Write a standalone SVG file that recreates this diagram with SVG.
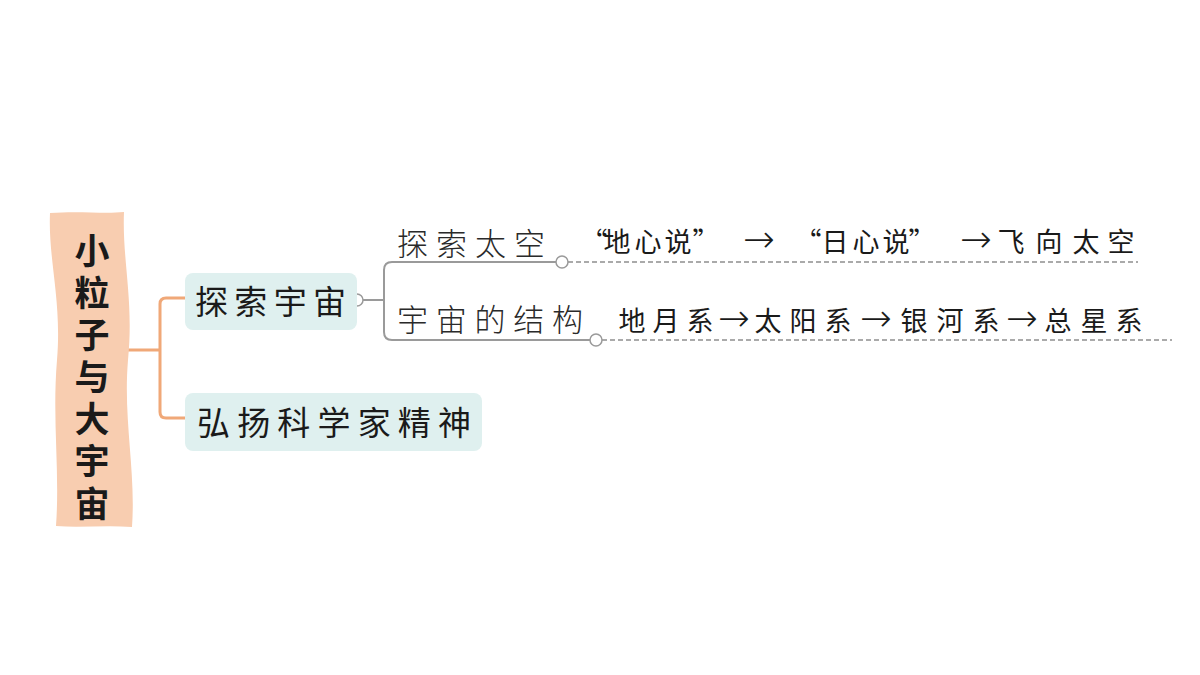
<svg xmlns="http://www.w3.org/2000/svg" width="1200" height="675" viewBox="0 0 1200 675">
<style>
.root{font-family:"Noto Sans CJK SC","Noto Sans",sans-serif;font-weight:700;font-size:35px;fill:#1a1a1a}
.node{font-family:"Noto Sans CJK SC","Noto Sans",sans-serif;font-size:33px;fill:#1a1a1a}
.sub{font-family:"Noto Sans CJK SC","Noto Sans",sans-serif;font-weight:300;font-size:31px;fill:#2a2a2a}
.note{font-family:"Noto Sans CJK SC","Noto Sans",sans-serif;font-weight:400;font-size:27px;fill:#1a1a1a}
.arr{font-family:"DejaVu Sans","Noto Sans CJK SC",sans-serif;font-size:38px;font-weight:300}
.box{fill:#dff0ef}
.orange{fill:none;stroke:#f0a878;stroke-width:3}
.gray{fill:none;stroke:#9a9a9a;stroke-width:2}
.dash{fill:none;stroke:#aaaaaa;stroke-width:2;stroke-dasharray:5 3}
.dot{fill:#fff;stroke:#9a9a9a;stroke-width:1.5}
</style>
<rect width="1200" height="675" fill="#ffffff"/>
<g id="connectors">
<path class="orange" d="M124 350 H160 M185 298 H166 Q160 298 160 304 V412 Q160 418 166 418 H185"/>
<path class="gray" d="M363 300 H384 M556 262 H392 Q384 262 384 270 V332 Q384 340 392 340 H590"/>
<path class="dash" d="M568 262 H1138"/>
<path class="dash" d="M602 340 H1172"/>
<circle class="dot" cx="357" cy="300" r="6"/>
<circle class="dot" cx="562" cy="262" r="6"/>
<circle class="dot" cx="596" cy="340" r="6"/>
</g>
<g id="root">
<path d="M50 213 C80 211 105 214 124 212 C122 260 134 300 128 360 C123 420 136 470 132 527 C105 525 80 528 56 526 C60 470 52 420 57 360 C62 300 48 260 50 213 Z" fill="#f8cdb0"/>
<g class="root" text-anchor="middle">
<text x="92" y="264">小</text>
<text x="92" y="306">粒</text>
<text x="92" y="348">子</text>
<text x="92" y="390">与</text>
<text x="92" y="432">大</text>
<text x="92" y="474">宇</text>
<text x="92" y="517">宙</text>
</g>
</g>
<g id="n1">
<rect class="box" x="185" y="273" width="172" height="57" rx="8"/>
<text class="node" x="195" y="314" textLength="151" lengthAdjust="spacing">探索宇宙</text>
</g>
<g id="n2">
<rect class="box" x="185" y="393" width="297" height="58" rx="8"/>
<text class="node" x="197" y="435" textLength="274" lengthAdjust="spacing">弘扬科学家精神</text>
</g>
<g id="n1a">
<text class="sub" x="397" y="255" textLength="148" lengthAdjust="spacing">探索太空</text>
<text class="note" text-anchor="middle" x="594 617 648 678 706 759 808 835 866 896 922 976 1011 1049 1086 1121" y="252">“地心说”<tspan class="arr">→</tspan>“日心说”<tspan class="arr">→</tspan>飞向太空</text>
</g>
<g id="n1b">
<text class="sub" x="397" y="331" textLength="186" lengthAdjust="spacing">宇宙的结构</text>
<text class="note" text-anchor="middle" x="632 666 700 734 768 803 838 876 914 950 986 1022 1058 1094 1129" y="331">地月系<tspan class="arr">→</tspan>太阳系<tspan class="arr">→</tspan>银河系<tspan class="arr">→</tspan>总星系</text>
</g>
</svg>
